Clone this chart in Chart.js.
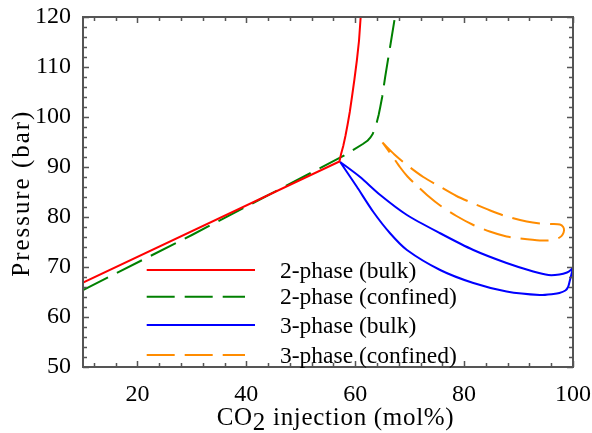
<!DOCTYPE html>
<html>
<head>
<meta charset="utf-8">
<script src="https://cdn.jsdelivr.net/npm/chart.js@4.4.1/dist/chart.umd.min.js"></script>
<style>
html,body{margin:0;padding:0;background:#fff;}
#wrap{width:592px;height:433px;}
canvas{display:block;}
</style>
</head>
<body>
<div id="wrap"><canvas id="c" width="592" height="433"></canvas></div>
<script>
// ---- data ----
const seriesLabels = ['2-phase (bulk)', '2-phase (confined)', '3-phase (bulk)', '3-phase (confined)'];

const bulk2X = [10, 57.1, 57.4, 57.8, 58.2, 58.6, 59.0, 59.4, 59.85, 60.3, 60.7, 61.0, 61.1];
const bulk2Y = [66.9, 91.1, 92.6, 94.2, 96.2, 98.5, 101.0, 104.0, 107.5, 111.3, 115.3, 120.0, 121.5];

const conf2X = [10, 30, 43, 58, 61.4, 62.3, 62.8, 63.2, 63.6, 63.95, 64.3, 64.6, 64.95, 65.5, 66.1, 66.7, 67.3, 67.5];
const conf2Y = [65.4, 76.4, 83.8, 92.3, 94.6, 95.3, 95.9, 96.6, 97.6, 98.9, 100.4, 102.0, 104.0, 108.0, 112.0, 116.0, 120.0, 121.5];

const bulk3X = [57.2, 60.9, 64.6, 69.5, 75.6, 81.7, 87.8, 92.7, 95.5, 97.5, 98.9, 99.6, 100,
                99.7, 99.4, 99.1, 98.6, 97.5, 96.4, 93.9, 87.8, 81.7, 75.6, 69.5, 66.4, 63.3, 60.3, 57.2];
const bulk3Y = [91.05, 88.0, 84.4, 80.4, 76.75, 73.4, 70.8, 69.1, 68.4, 68.5, 68.9, 69.4, 69.9,
                68.5, 67.2, 66.0, 65.3, 64.8, 64.6, 64.4, 65.1, 66.8, 69.4, 73.4, 76.75, 81.05, 86.05, 91.05];

const conf3X = [65.0, 67.2, 69.5, 72.5, 75.6, 78.6, 81.7, 84.8, 87.8, 91.5, 94.0, 96.1, 97.6, 98.2, 98.35, 98.1, 97.6,
                96.4, 93.9, 90.3, 87.8, 84.7, 81.7, 78.6, 75.6, 73.4, 71.3, 69.6, 68.2, 66.6, 65.0];
const conf3Y = [94.9, 92.5, 90.4, 88.0, 86.05, 84.2, 82.7, 81.3, 80.1, 79.1, 78.7, 78.6, 78.5, 78.0, 77.3, 76.5, 75.95,
                75.4, 75.3, 75.7, 76.1, 77.1, 78.4, 80.2, 82.3, 84.2, 86.3, 88.1, 90.0, 92.5, 94.9];

const xTickValues = [20, 40, 60, 80, 100];
const yTickValues = [50, 60, 70, 80, 90, 100, 110, 120];
const xMinorStep = 4;
const yMinorStep = 2;
const xTitleParts = ['CO', '2', ' injection (mol%)'];
const yTitle = 'Pressure (bar)';

// ---- helpers ----
const SERIF = '"Liberation Serif", "Times New Roman", serif';
function pts(xs, ys) { return xs.map((x, i) => ({ x: x, y: ys[i] })); }

function drawSpaced(ctx, text, x, y, spacing) {
  let cx = x;
  for (const ch of text) {
    ctx.fillText(ch, cx, y);
    cx += ctx.measureText(ch).width + spacing;
  }
  return cx;
}

const frameColor = '#555';

const framePlugin = {
  id: 'frame',
  afterDraw(chart) {
    const { ctx, chartArea: a, scales } = chart;
    const xs = scales.x, ys = scales.y;
    ctx.save();
    ctx.strokeStyle = frameColor;
    ctx.lineWidth = 1.5;
    const major = 6, minor = 4;
    for (let v = xs.min + 2; v <= xs.max + 1e-9; v += xMinorStep) {
      const isMajor = xTickValues.some(t => Math.abs(t - v) < 1e-6);
      const len = isMajor ? major : minor;
      const p = Math.round(xs.getPixelForValue(v)) + 0.5;
      ctx.beginPath();
      ctx.moveTo(p, a.bottom); ctx.lineTo(p, a.bottom - len);
      ctx.moveTo(p, a.top); ctx.lineTo(p, a.top + len);
      ctx.stroke();
    }
    for (let v = ys.min; v <= ys.max + 1e-9; v += yMinorStep) {
      const isMajor = yTickValues.some(t => Math.abs(t - v) < 1e-6);
      const len = isMajor ? major : minor;
      const p = Math.round(ys.getPixelForValue(v)) + 0.5;
      ctx.beginPath();
      ctx.moveTo(a.left, p); ctx.lineTo(a.left + len, p);
      ctx.moveTo(a.right, p); ctx.lineTo(a.right - len, p);
      ctx.stroke();
    }
    ctx.lineWidth = 2;
    ctx.strokeRect(a.left, a.top, a.right - a.left, a.bottom - a.top);
    ctx.restore();
  }
};

const textPlugin = {
  id: 'texts',
  afterDraw(chart) {
    const ctx = chart.ctx;
    ctx.save();
    ctx.fillStyle = '#000';
    // legend
    ctx.font = '23.5px ' + SERIF;
    ctx.textBaseline = 'alphabetic';
    ctx.textAlign = 'left';
    const rows = [270, 296.7, 325, 355];
    const legSpacing = Math.max(0, (176.7 - ctx.measureText(seriesLabels[1]).width) / (seriesLabels[1].length - 1));
    chart.data.datasets.forEach((ds, i) => {
      const y = rows[i];
      ctx.save();
      ctx.strokeStyle = ds.borderColor;
      ctx.lineWidth = 2;
      ctx.setLineDash(ds.borderDash || []);
      ctx.beginPath();
      ctx.moveTo(146.7, y);
      ctx.lineTo(ds.borderDash && ds.borderDash.length ? 245 : 255, y);
      ctx.stroke();
      ctx.restore();
      drawSpaced(ctx, ds.label, 280, y + 7.5, legSpacing);
    });
    // x title
    ctx.font = '25px ' + SERIF;
    const full = xTitleParts.join('');
    const xsp = Math.max(0, (237 - ctx.measureText(full).width) / (full.length - 1));
    let cx = 216.7;
    cx = drawSpaced(ctx, xTitleParts[0], cx, 425, xsp);
    cx = drawSpaced(ctx, xTitleParts[1], cx, 430, xsp);
    drawSpaced(ctx, xTitleParts[2], cx, 425, xsp);
    // y title
    ctx.font = '25px ' + SERIF;
    const ysp = Math.max(0, (165 - ctx.measureText(yTitle).width) / (yTitle.length - 1));
    ctx.translate(29, 276.7);
    ctx.rotate(-Math.PI / 2);
    drawSpaced(ctx, yTitle, 0, 0, ysp);
    ctx.restore();
  }
};

const dash = [28, 10];

new Chart(document.getElementById('c').getContext('2d'), {
  type: 'scatter',
  data: {
    datasets: [
      { label: seriesLabels[0], data: pts(bulk2X, bulk2Y), borderColor: '#ff0000', borderDash: [], tension: 0 },
      { label: seriesLabels[1], data: pts(conf2X, conf2Y), borderColor: '#008000', borderDash: dash, tension: 0 },
      { label: seriesLabels[2], data: pts(bulk3X, bulk3Y), borderColor: '#0000ff', borderDash: [], tension: 0.25 },
      { label: seriesLabels[3], data: pts(conf3X, conf3Y), borderColor: '#ff8c00', borderDash: dash, tension: 0.25 }
    ].map(d => Object.assign(d, { showLine: true, borderWidth: 2, pointRadius: 0, fill: false }))
  },
  options: {
    responsive: false,
    animation: false,
    devicePixelRatio: 1,
    layout: { padding: { left: 0, right: 19, top: 17, bottom: 0 } },
    plugins: { legend: { display: false }, tooltip: { enabled: false }, title: { display: false } },
    scales: {
      x: {
        type: 'linear', min: 10, max: 100,
        afterBuildTicks: s => { s.ticks = xTickValues.map(v => ({ value: v })); },
        afterFit: s => { s.height = 66; s.paddingLeft = 0; s.paddingRight = 0; },
        grid: { display: false, drawTicks: false },
        border: { display: false },
        ticks: { padding: 13, color: '#000', font: { family: SERIF, size: 24 }, autoSkip: false, maxRotation: 0 }
      },
      y: {
        type: 'linear', min: 50, max: 120,
        afterBuildTicks: s => { s.ticks = yTickValues.map(v => ({ value: v })); },
        afterFit: s => { s.width = 83; s.paddingTop = 0; s.paddingBottom = 0; },
        grid: { display: false, drawTicks: false },
        border: { display: false },
        ticks: { padding: 12, color: '#000', font: { family: SERIF, size: 24 }, autoSkip: false }
      }
    }
  },
  plugins: [framePlugin, textPlugin]
});
</script>
</body>
</html>
